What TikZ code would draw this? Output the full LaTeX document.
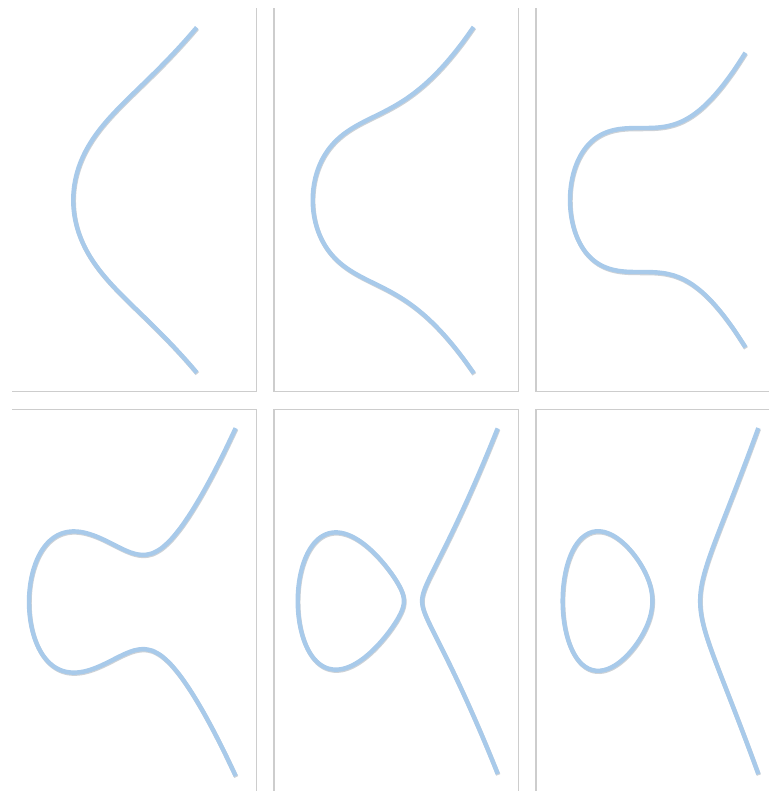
\documentclass[tikz,border=0pt]{standalone}
\usepackage{tikz}
\tikzset{>=stealth}
\definecolor{curveblue}{RGB}{168,202,234}
\definecolor{curveshade}{RGB}{205,210,215}
\definecolor{framegray}{RGB}{205,205,205}
\tikzset{curve/.style={color=curveblue, line width=2.5pt, smooth,
    preaction={draw=curveshade, line width=2.5pt, transform canvas={xshift=0.3pt, yshift=-0.6pt}}}}
\tikzset{frame/.style={color=framegray, line width=0.6pt}}

\begin{document}
\begin{tikzpicture}[x=0.02cm, y=-0.02cm,
    declare function={gq(\x,\p,\q)=\x*\x+\p*\x+\p*\p+\q;}]
    \useasboundingbox (0,0) rectangle (769,791);
    % frames
    \draw[frame] (256.5,8) -- (256.5,391.5) -- (12,391.5);
    \draw[frame] (274,8) -- (274,391.5) -- (518.5,391.5) -- (518.5,8);
    \draw[frame] (536,8) -- (536,391.5) -- (769,391.5);
    \draw[frame] (12,409.5) -- (256.5,409.5) -- (256.5,791);
    \draw[frame] (274,791) -- (274,409.5) -- (518.5,409.5) -- (518.5,791);
    \draw[frame] (769,409.5) -- (536,409.5) -- (536,791);
    % one branch: x = r + t^2
    \draw[curve] plot [variable=\t, domain=-1.2:1.2, samples=61]
        ({100.9+85.8*(-0.3222+\t*\t)}, {200-72*\t*sqrt(gq(-0.3222+\t*\t,-0.3222,3))});
    \draw[curve] plot [variable=\t, domain=-1.419:1.419, samples=61]
        ({367.3+80*(-0.6823+\t*\t)}, {200-80*\t*sqrt(gq(-0.6823+\t*\t,-0.6823,1))});
    \draw[curve] plot [variable=\t, domain=-1.572:1.572, samples=61]
        ({641+71*(-1+\t*\t)}, {200-72*\t*sqrt(gq(-1+\t*\t,-1,0))});
    \draw[curve] plot [variable=\t, domain=-1.856:1.856, samples=71]
        ({108.5+60*(-1.3247+\t*\t)}, {602-60*\t*sqrt(gq(-1.3247+\t*\t,-1.3247,-1))});
    % two branches
    \draw[curve] plot [smooth cycle, variable=\t, domain=0:355, samples=72]
        ({374.6+47.5*(-0.5-1.118*cos(\t))}, {601-47.5*1.118*sin(\t)*sqrt(1.5+1.118*cos(\t))});
    \draw[curve] plot [variable=\t, domain=-1.262:1.262, samples=61]
        ({374.6+47.5*(1+\t*\t)}, {601-47.5*\t*sqrt((2.618+\t*\t)*(0.382+\t*\t))});
    \draw[curve] plot [smooth cycle, variable=\t, domain=0:355, samples=72]
        ({638.4+40.3*(-0.7661-1.1134*cos(\t))}, {601-40.3*1.1134*sin(\t)*sqrt(2.2982+1.1134*cos(\t))});
    \draw[curve] plot [variable=\t, domain=-1.2017:1.2017, samples=61]
        ({638.4+40.3*(1.5321+\t*\t)}, {601-40.3*\t*sqrt((3.4115+\t*\t)*(1.1848+\t*\t))});
\end{tikzpicture}
\end{document}
